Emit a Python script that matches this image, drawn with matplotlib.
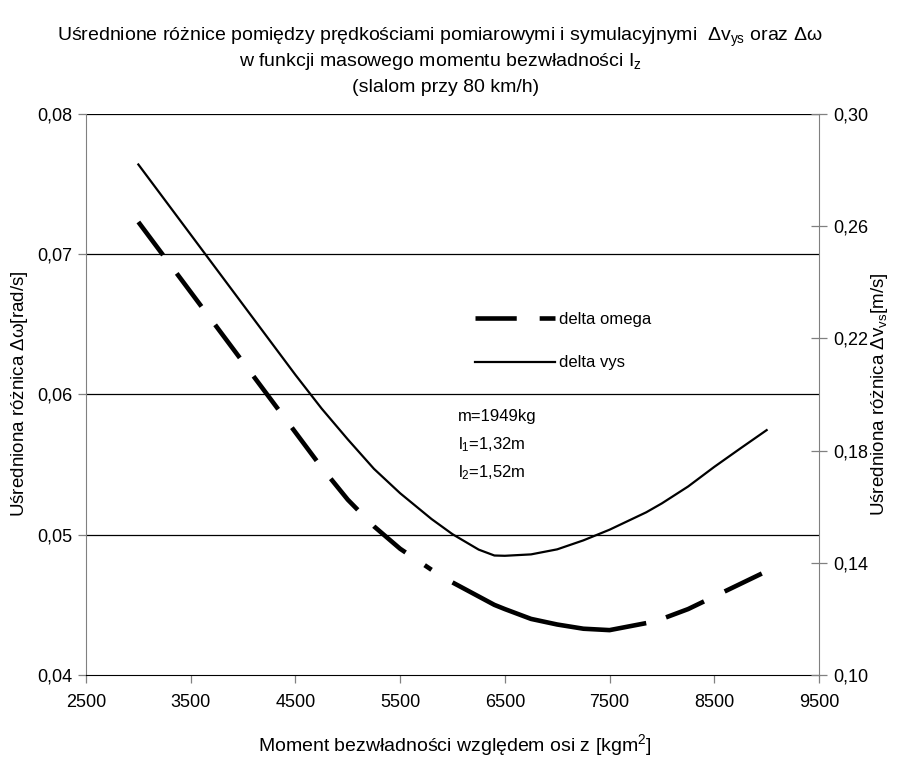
import numpy as np
import matplotlib
matplotlib.use("Agg")
from matplotlib import pyplot as plt
from matplotlib.ticker import FuncFormatter

plt.rcParams['font.family'] = ['Liberation Sans', 'DejaVu Sans']
plt.rcParams['mathtext.fontset'] = 'custom'
plt.rcParams['mathtext.rm'] = 'Liberation Sans'
plt.rcParams['mathtext.it'] = 'Liberation Sans'
plt.rcParams['mathtext.bf'] = 'Liberation Sans:bold'

# moment of inertia Iz [kgm^2]
iz = [3000, 3500, 4000, 4500, 4750, 5000, 5250, 5500, 5800, 6000, 6250, 6400, 6500,
      6750, 7000, 7250, 7500, 7850, 8000, 8250, 8500, 8750, 9000]
# delta omega [rad/s] (left axis)
delta_omega = [0.0723, 0.0673, 0.0623, 0.0573, 0.0548, 0.0525, 0.0506, 0.0490, 0.0475,
               0.0466, 0.0456, 0.0450, 0.0447, 0.0440, 0.0436, 0.0433, 0.0432, 0.0437,
               0.0440, 0.0447, 0.0456, 0.0465, 0.0474]
# delta vys [m/s] (right axis)
delta_vys = [0.282, 0.257, 0.232, 0.207, 0.1950, 0.1840, 0.1735, 0.1648, 0.1556,
             0.1502, 0.1447, 0.1426, 0.1425, 0.1430, 0.1448, 0.1480, 0.1518, 0.1580,
             0.1612, 0.1672, 0.1742, 0.1808, 0.1873]

xticks = [2500, 3500, 4500, 5500, 6500, 7500, 8500, 9500]
left_ticks = [0.04, 0.05, 0.06, 0.07, 0.08]
right_ticks = [0.10, 0.14, 0.18, 0.22, 0.26, 0.30]

W, H = 899, 758
fig = plt.figure(figsize=(W / 100, H / 100), dpi=100)
ax = fig.add_axes([86 / W, (H - 675) / H, (819 - 86) / W, (675 - 114) / H])
ax2 = ax.twinx()

comma = FuncFormatter(lambda v, p: f'{v:.2f}'.replace('.', ','))

ax.set_xlim(2500, 9500)
ax.set_ylim(0.04, 0.08)
ax2.set_ylim(0.10, 0.30)
ax.set_xticks(xticks)
ax.set_yticks(left_ticks)
ax2.set_yticks(right_ticks)
ax.yaxis.set_major_formatter(comma)
ax2.yaxis.set_major_formatter(comma)

for v in left_ticks[1:]:
    ax.axhline(v, color='black', lw=0.9, zorder=1)

for s in ['left', 'right']:
    ax.spines[s].set_color('#808080')
    ax2.spines[s].set_color('#808080')
ax.spines['top'].set_visible(False)
ax2.spines['top'].set_visible(False)
ax.spines['bottom'].set_color('black')
ax2.spines['bottom'].set_visible(False)
ax.spines['right'].set_visible(False)
ax2.spines['left'].set_visible(False)

ax.tick_params(axis='x', direction='out', length=6, width=0.9, color='#808080',
               labelsize=13, pad=8)
ax.tick_params(axis='y', direction='out', length=6, width=0.9, color='#808080',
               labelsize=13, pad=4)
ax2.tick_params(axis='y', direction='inout', length=12, width=0.9, color='#808080',
                labelsize=13, pad=4)

# Excel-like dashing: dense points in the middle look solid
x = np.array(iz)
y = np.array(delta_omega)
head = x <= 5800
mid = (x >= 6000) & (x <= 7850)
tail = x >= 7850
lw_om = 3.3
l1, = ax.plot(x[head], y[head], color='black', lw=lw_om, linestyle=(0, (9, 5)),
              dash_capstyle='butt', label='delta omega', zorder=3)
ax.plot(x[mid], y[mid], color='black', lw=lw_om, solid_capstyle='butt', zorder=3)
ax.plot(x[tail], y[tail], color='black', lw=lw_om, linestyle=(9.5, (9, 5)),
        dash_capstyle='butt', zorder=3)
l2, = ax2.plot(iz, delta_vys, color='black', lw=1.6, label='delta vys', zorder=3)

ax2.legend(handles=[l1, l2], loc='upper left', frameon=False, fontsize=12,
           bbox_to_anchor=(475 / W, 1 - 312 / H), bbox_transform=fig.transFigure,
           borderpad=0, borderaxespad=0, handlelength=4.8, handletextpad=0.25,
           labelspacing=1.7)

fig.text(458 / W, 1 - 416 / H, 'm=1949kg', fontsize=12, va='center')
fig.text(458 / W, 1 - 445 / H, r'l$_1$=1,32m', fontsize=12, va='center')
fig.text(458 / W, 1 - 473 / H, r'l$_2$=1,52m', fontsize=12, va='center')

fig.text(440 / W, 1 - 37 / H,
         r'Uśrednione różnice pomiędzy prędkościami pomiarowymi i symulacyjnymi  $\Delta$v$_{ys}$ oraz $\Delta\omega$',
         fontsize=14, ha='center', va='center')
fig.text(440 / W, 1 - 62 / H, r'w funkcji masowego momentu bezwładności I$_z$',
         fontsize=14, ha='center', va='center')
fig.text(446 / W, 1 - 87 / H, '(slalom przy 80 km/h)',
         fontsize=14, ha='center', va='center')

fig.text(20 / W, 1 - 394 / H, r'Uśredniona różnica $\Delta\omega$[rad/s]', fontsize=13.5,
         rotation=90, ha='center', va='center')
fig.text(880 / W, 1 - 394 / H, r'Uśredniona różnica $\Delta$v$_{vs}$[m/s]', fontsize=13.5,
         rotation=90, ha='center', va='center')
fig.text(455 / W, 1 - 745 / H, r'Moment bezwładności względem osi z [kgm$^2$]',
         fontsize=14, ha='center', va='center')

fig.savefig('out.png', dpi=100)
